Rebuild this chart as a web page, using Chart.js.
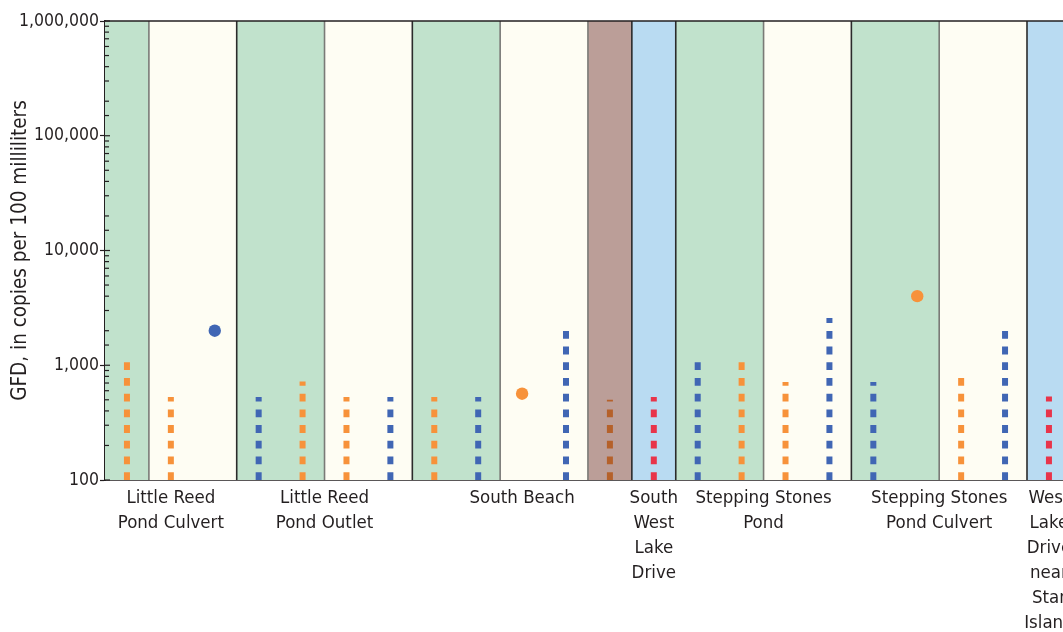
<!DOCTYPE html>
<html>
<head>
<meta charset="utf-8">
<script src="https://cdn.jsdelivr.net/npm/chart.js@4.4.1/dist/chart.umd.min.js"></script>
<style>
  html, body { margin: 0; padding: 0; background: #ffffff; overflow: hidden; }
  #wrap { width: 1063px; height: 632px; position: relative; }
</style>
</head>
<body>
<div id="wrap"><canvas id="c"></canvas></div>
<script>
// ---------------- DATA ----------------
// Group (site) label positions on the slot axis and their multi-line labels
const siteCenters = [1.5, 5, 9.5, 12.5, 15, 19, 21.5];
const siteLabels = [
  ["Little Reed", "Pond Culvert"],
  ["Little Reed", "Pond Outlet"],
  ["South Beach"],
  ["South", "West", "Lake", "Drive"],
  ["Stepping Stones", "Pond"],
  ["Stepping Stones", "Pond Culvert"],
  ["West", "Lake", "Drive", "near", "Star", "Island"]
];
// Background bands (slot ranges) and their category
const bandStarts = [0, 1, 3, 5, 7, 9, 11, 12, 13, 15, 17, 19, 21];
const bandEnds   = [1, 3, 5, 7, 9, 11, 12, 13, 15, 17, 19, 21, 22];
const bandKinds  = ["green", "cream", "green", "cream", "green", "cream", "brown", "blue", "green", "cream", "green", "cream", "blue"];
// Dividers between bands: site boundaries vs. within-site boundaries
const siteBounds   = [3, 7, 12, 13, 17, 21];
const withinBounds = [1, 5, 9, 11, 15, 19];

// Dashed-line series (slot index, value in copies per 100 mL)
const orangeDashSlots  = [0, 1, 4, 5, 7, 14, 15, 19];
const orangeDashValues = [1060, 530, 720, 530, 530, 1060, 715, 775];
const blueDashSlots    = [3, 6, 8, 10, 13, 16, 17, 20];
const blueDashValues   = [530, 530, 530, 1990, 1060, 2580, 715, 2010];
const redDashSlots     = [12, 21];
const redDashValues    = [530, 535];
const brownDashSlots   = [11];
const brownDashValues  = [500];
// Point series
const blueDotSlots    = [2];
const blueDotValues   = [2000];
const orangeDotSlots  = [9, 18];
const orangeDotValues = [565, 4000];

// Y-axis
const yMin = 100, yMax = 1000000;
const yMajorValues = [100, 1000, 10000, 100000, 1000000];
const yTickLabels  = ["100", "1,000", "10,000", "100,000", "1,000,000"];
const yTitle = "GFD, in copies per 100 milliliters";

// ---------------- STYLES ----------------
const FONT = "'DejaVu Sans Condensed', 'Liberation Sans', Arial, sans-serif";
const TEXT = "#231f20";
const bandColors = { green: "#c1e2cc", cream: "#fefdf3", brown: "#bb9e98", blue: "#b9dbf2" };
const colOrange = "#f7923a", colBlue = "#4066b4", colRed = "#e8344a", colBrown = "#b5612a";
const SLOT_OFFSET = 0.5;
const X_MAX = 21.82;

// ---------------- BUILD DATASETS ----------------
function dashDatasets(slots, values, color) {
  return slots.map((s, i) => ({
    type: 'line',
    data: [{ x: s + SLOT_OFFSET, y: yMin }, { x: s + SLOT_OFFSET, y: values[i] }],
    borderColor: color,
    borderWidth: 6,
    borderDash: [7.8, 7.9],
    borderCapStyle: 'butt',
    pointRadius: 0,
    fill: false,
    tension: 0,
    clip: false
  }));
}
function dotDataset(slots, values, color) {
  return {
    type: 'scatter',
    data: slots.map((s, i) => ({ x: s + SLOT_OFFSET, y: values[i] })),
    backgroundColor: color,
    borderColor: color,
    borderWidth: 0,
    pointRadius: 6.2,
    pointHoverRadius: 6.2
  };
}
const datasets = [].concat(
  dashDatasets(orangeDashSlots, orangeDashValues, colOrange),
  dashDatasets(blueDashSlots, blueDashValues, colBlue),
  dashDatasets(redDashSlots, redDashValues, colRed),
  dashDatasets(brownDashSlots, brownDashValues, colBrown),
  [dotDataset(blueDotSlots, blueDotValues, colBlue), dotDataset(orangeDotSlots, orangeDotValues, colOrange)]
);

const isMajor = v => Math.abs(Math.log10(v) - Math.round(Math.log10(v))) < 1e-9;

// ---------------- PLUGIN: bands, dividers, frame, inner ticks ----------------
const decorPlugin = {
  id: 'decor',
  beforeDatasetsDraw(chart) {
    const { ctx, chartArea: a, scales: { x } } = chart;
    ctx.save();
    ctx.beginPath();
    ctx.rect(a.left, a.top, a.right - a.left, a.bottom - a.top);
    ctx.clip();
    bandStarts.forEach((s, i) => {
      const x0 = x.getPixelForValue(s), x1 = x.getPixelForValue(bandEnds[i]);
      ctx.fillStyle = bandColors[bandKinds[i]];
      ctx.fillRect(x0, a.top, x1 - x0, a.bottom - a.top);
    });
    ctx.lineWidth = 1.6;
    ctx.strokeStyle = "#7a7a76";
    withinBounds.forEach(b => {
      const px = x.getPixelForValue(b);
      ctx.beginPath(); ctx.moveTo(px, a.top); ctx.lineTo(px, a.bottom); ctx.stroke();
    });
    ctx.strokeStyle = "#2b2b2b";
    siteBounds.forEach(b => {
      const px = x.getPixelForValue(b);
      ctx.beginPath(); ctx.moveTo(px, a.top); ctx.lineTo(px, a.bottom); ctx.stroke();
    });
    ctx.restore();
  },
  afterDraw(chart) {
    const { ctx, chartArea: a, scales: { y } } = chart;
    ctx.save();
    ctx.strokeStyle = TEXT;
    ctx.lineWidth = 1.6;
    ctx.beginPath(); ctx.moveTo(a.left - 0.8, a.top); ctx.lineTo(a.right, a.top); ctx.stroke();
    ctx.lineWidth = 1.2;
    y.ticks.forEach(t => {
      const py = y.getPixelForValue(t.value);
      const len = isMajor(t.value) ? 5 : 4;
      ctx.beginPath(); ctx.moveTo(a.left, py); ctx.lineTo(a.left + len, py); ctx.stroke();
    });
    ctx.restore();
  }
};

// ---------------- CHART ----------------
new Chart(document.getElementById('c'), {
  type: 'line',
  data: { datasets },
  plugins: [decorPlugin],
  options: {
    responsive: true,
    maintainAspectRatio: false,
    animation: false,
    devicePixelRatio: 1,
    layout: { autoPadding: false, padding: { top: 21, left: 0, right: 0, bottom: 0 } },
    plugins: { legend: { display: false }, tooltip: { enabled: false } },
    events: [],
    scales: {
      x: {
        type: 'linear',
        min: 0,
        max: X_MAX,
        grid: { display: false, drawTicks: false },
        border: { display: true, color: TEXT, width: 1.8 },
        afterBuildTicks: scale => { scale.ticks = siteCenters.map(v => ({ value: v })); },
        afterFit: scale => { scale.height = 152; scale.paddingLeft = 0; scale.paddingRight = 0; },
        ticks: {
          autoSkip: false,
          maxRotation: 0,
          minRotation: 0,
          padding: 5.5,
          color: TEXT,
          font: { family: FONT, size: 18.5, lineHeight: 1.35 },
          callback: (v) => {
            const i = siteCenters.findIndex(c => Math.abs(c - v) < 1e-6);
            return i >= 0 ? siteLabels[i] : '';
          }
        }
      },
      y: {
        type: 'logarithmic',
        min: yMin,
        max: yMax,
        position: 'left',
        border: { display: true, color: TEXT, width: 1.8 },
        grid: {
          drawOnChartArea: false,
          drawTicks: true,
          tickLength: 5,
          tickWidth: 1.2,
          tickColor: c => (c.tick && isMajor(c.tick.value)) ? TEXT : 'rgba(0,0,0,0)'
        },
        afterFit: scale => { scale.width = 105; scale.paddingTop = 0; scale.paddingBottom = 0; },
        ticks: {
          autoSkip: false,
          padding: 1,
          color: TEXT,
          font: { family: FONT, size: 17.5 },
          callback: (v) => {
            const i = yMajorValues.findIndex(m => Math.abs(m - v) < 1e-6 * m);
            return i >= 0 ? yTickLabels[i] : '';
          }
        },
        title: {
          display: true,
          text: yTitle,
          color: TEXT,
          font: { family: FONT, size: 20.5 },
          padding: { top: 8, bottom: 0 }
        }
      }
    }
  }
});
</script>
</body>
</html>
